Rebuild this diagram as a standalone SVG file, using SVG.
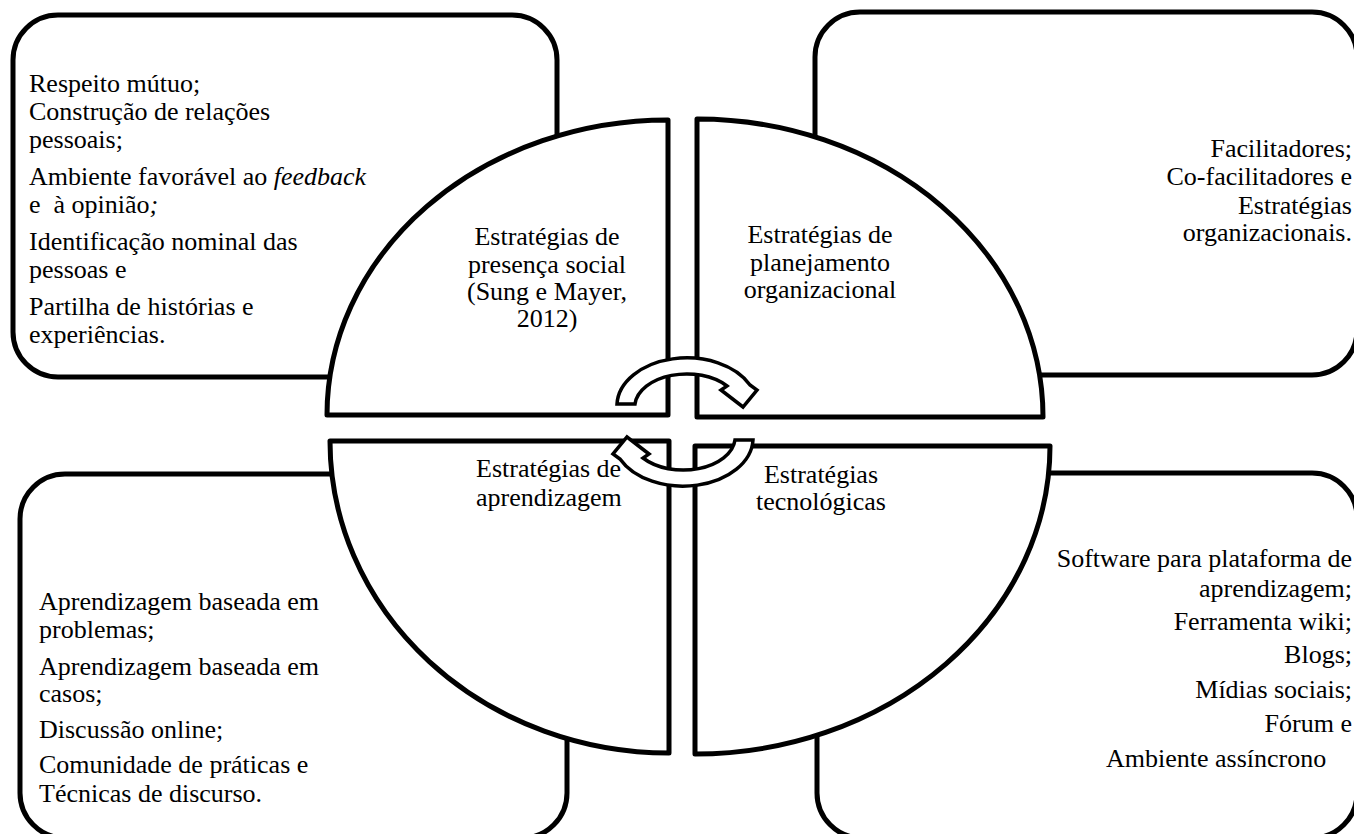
<svg xmlns="http://www.w3.org/2000/svg" width="1354" height="834" viewBox="0 0 1354 834" font-family="'Liberation Serif', 'Times New Roman', serif">
<style>
.box{fill:#fff;stroke:#000;stroke-width:5}
.q{fill:#fff;stroke:#000;stroke-width:5;stroke-linejoin:round}
.arr{fill:#fff;stroke:#000;stroke-width:3.5;stroke-linejoin:miter}
text{font-family:'Liberation Serif','Times New Roman',serif;font-size:26px;fill:#000}
.c{text-anchor:middle}
.r{text-anchor:end}
.i{font-style:italic}
</style>
<rect width="1354" height="834" fill="#fff"/>
<g id="box-social">
<rect class="box" x="13" y="15" width="544" height="362" rx="45"/>
<text x="29" y="92">Respeito mútuo;</text>
<text x="29" y="120">Construção de relações</text>
<text x="29" y="148">pessoais;</text>
<text x="29" y="185">Ambiente favorável ao <tspan class="i">feedback</tspan></text>
<text x="29" y="213" style="white-space:pre">e  à opinião<tspan class="i">;</tspan></text>
<text x="29" y="250">Identificação nominal das</text>
<text x="29" y="278">pessoas e</text>
<text x="29" y="315">Partilha de histórias e</text>
<text x="29" y="343">experiências.</text>
</g>
<g id="box-planejamento">
<rect class="box" x="815" y="12" width="542" height="363" rx="45"/>
<text class="r" x="1352" y="157">Facilitadores;</text>
<text class="r" x="1352" y="185">Co-facilitadores e</text>
<text class="r" x="1352" y="214">Estratégias</text>
<text class="r" x="1352" y="241">organizacionais.</text>
</g>
<g id="box-aprendizagem">
<rect class="box" x="20" y="474" width="547" height="364" rx="45"/>
<text x="39" y="610">Aprendizagem baseada em</text>
<text x="39" y="638">problemas;</text>
<text x="39" y="675">Aprendizagem baseada em</text>
<text x="39" y="702">casos;</text>
<text x="39" y="738">Discussão online;</text>
<text x="39" y="773">Comunidade de práticas e</text>
<text x="39" y="802">Técnicas de discurso.</text>
</g>
<g id="box-tecnologicas">
<rect class="box" x="817" y="473" width="540" height="365" rx="45"/>
<text class="r" x="1352" y="567">Software para plataforma de</text>
<text class="r" x="1352" y="597">aprendizagem;</text>
<text class="r" x="1352" y="630">Ferramenta wiki;</text>
<text class="r" x="1352" y="663">Blogs;</text>
<text class="r" x="1352" y="698">Mídias sociais;</text>
<text class="r" x="1352" y="732">Fórum e</text>
<text x="1106" y="767">Ambiente assíncrono</text>
</g>
<g id="q-social">
<path class="q" d="M668,415 L327,415 A341 295 0 0 1 668,120 Z"/>
<text class="c" x="547" y="245">Estratégias de</text>
<text class="c" x="547" y="273">presença social</text>
<text class="c" x="547" y="300">(Sung e Mayer,</text>
<text class="c" x="547" y="327">2012)</text>
</g>
<g id="q-planejamento">
<path class="q" d="M697,417 L697,119 A346 298 0 0 1 1043,417 Z"/>
<text class="c" x="820" y="243">Estratégias de</text>
<text class="c" x="820" y="271">planejamento</text>
<text class="c" x="820" y="298">organizacional</text>
</g>
<g id="q-aprendizagem">
<path class="q" d="M669,441 L330,441 A339 312 0 0 0 669,753 Z"/>
<text x="476" y="477">Estratégias de</text>
<text x="476" y="506">aprendizagem</text>
</g>
<g id="q-tecnologicas">
<path class="q" d="M695,446 L1050,446 A355 308 0 0 1 695,754 Z"/>
<text class="c" x="821" y="483">Estratégias</text>
<text class="c" x="821" y="510">tecnológicas</text>
</g>
<g id="connectors">
<path class="arr" d="M617,404 A70 48 0 0 1 750,385 L757,390 L743,407 L721,390 L727,386 A52 33 0 0 0 635,404 Z"/>
<path class="arr" transform="rotate(180 685 422)" d="M617,404 A70 48 0 0 1 750,385 L757,390 L743,407 L721,390 L727,386 A52 33 0 0 0 635,404 Z"/>
</g>
</svg>
